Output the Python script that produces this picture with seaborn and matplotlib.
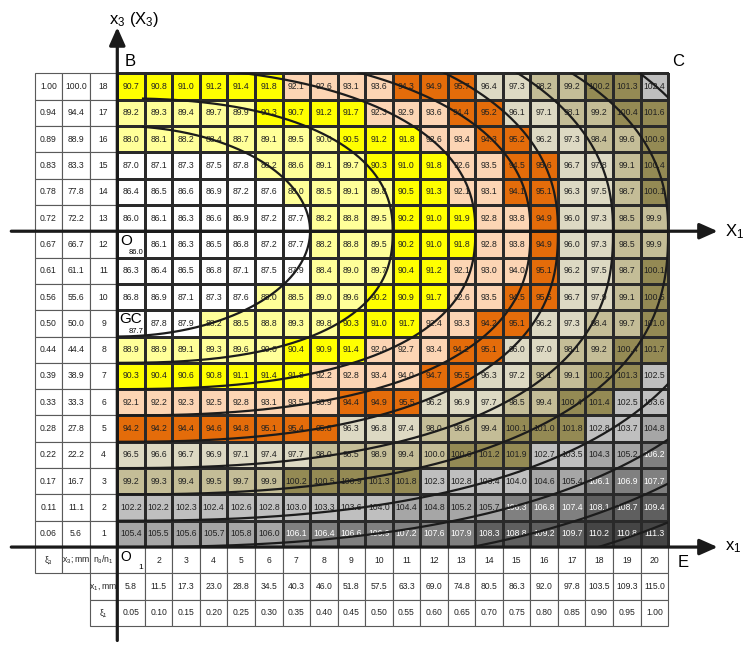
import numpy as np
import pandas as pd
import matplotlib
matplotlib.use('Agg')
import matplotlib.pyplot as plt
import seaborn as sns
from matplotlib.colors import ListedColormap, BoundaryNorm
from matplotlib.patches import Rectangle

# rows of the table, top (n3 = 18) to bottom (n3 = 1)
n3_levels = list(range(18, 0, -1))
n1_levels = list(range(1, 21))
xi3 = ['1.00', '0.94', '0.89', '0.83', '0.78', '0.72', '0.67', '0.61', '0.56',
       '0.50', '0.44', '0.39', '0.33', '0.28', '0.22', '0.17', '0.11', '0.06']
x3_mm = ['100.0', '94.4', '88.9', '83.3', '77.8', '72.2', '66.7', '61.1', '55.6',
         '50.0', '44.4', '38.9', '33.3', '27.8', '22.2', '16.7', '11.1', '5.6']
x1_mm = ['5.8', '11.5', '17.3', '23.0', '28.8', '34.5', '40.3', '46.0', '51.8', '57.5',
         '63.3', '69.0', '74.8', '80.5', '86.3', '92.0', '97.8', '103.5', '109.3', '115.0']
xi1 = ['0.05', '0.10', '0.15', '0.20', '0.25', '0.30', '0.35', '0.40', '0.45', '0.50',
       '0.55', '0.60', '0.65', '0.70', '0.75', '0.80', '0.85', '0.90', '0.95', '1.00']

cell_values = [
    [90.7, 90.8, 91.0, 91.2, 91.4, 91.8, 92.1, 92.6, 93.1, 93.6, 94.3, 94.9, 95.7, 96.4, 97.3, 98.2, 99.2, 100.2, 101.3, 102.4],
    [89.2, 89.3, 89.4, 89.7, 89.9, 90.3, 90.7, 91.2, 91.7, 92.3, 92.9, 93.6, 94.4, 95.2, 96.1, 97.1, 98.1, 99.2, 100.4, 101.6],
    [88.0, 88.1, 88.2, 88.4, 88.7, 89.1, 89.5, 90.0, 90.5, 91.2, 91.8, 92.6, 93.4, 94.3, 95.2, 96.2, 97.3, 98.4, 99.6, 100.9],
    [87.0, 87.1, 87.3, 87.5, 87.8, 88.2, 88.6, 89.1, 89.7, 90.3, 91.0, 91.8, 92.6, 93.5, 94.5, 95.6, 96.7, 97.8, 99.1, 100.4],
    [86.4, 86.5, 86.6, 86.9, 87.2, 87.6, 88.0, 88.5, 89.1, 89.8, 90.5, 91.3, 92.1, 93.1, 94.1, 95.1, 96.3, 97.5, 98.7, 100.1],
    [86.0, 86.1, 86.3, 86.6, 86.9, 87.2, 87.7, 88.2, 88.8, 89.5, 90.2, 91.0, 91.9, 92.8, 93.8, 94.9, 96.0, 97.3, 98.5, 99.9],
    [86.0, 86.1, 86.3, 86.5, 86.8, 87.2, 87.7, 88.2, 88.8, 89.5, 90.2, 91.0, 91.8, 92.8, 93.8, 94.9, 96.0, 97.3, 98.5, 99.9],
    [86.3, 86.4, 86.5, 86.8, 87.1, 87.5, 87.9, 88.4, 89.0, 89.7, 90.4, 91.2, 92.1, 93.0, 94.0, 95.1, 96.2, 97.5, 98.7, 100.1],
    [86.8, 86.9, 87.1, 87.3, 87.6, 88.0, 88.5, 89.0, 89.6, 90.2, 90.9, 91.7, 92.6, 93.5, 94.5, 95.5, 96.7, 97.9, 99.1, 100.5],
    [87.7, 87.8, 87.9, 88.2, 88.5, 88.8, 89.3, 89.8, 90.3, 91.0, 91.7, 92.4, 93.3, 94.2, 95.1, 96.2, 97.3, 98.4, 99.7, 101.0],
    [88.9, 88.9, 89.1, 89.3, 89.6, 90.0, 90.4, 90.9, 91.4, 92.0, 92.7, 93.4, 94.2, 95.1, 96.0, 97.0, 98.1, 99.2, 100.4, 101.7],
    [90.3, 90.4, 90.6, 90.8, 91.1, 91.4, 91.8, 92.2, 92.8, 93.4, 94.0, 94.7, 95.5, 96.3, 97.2, 98.1, 99.1, 100.2, 101.3, 102.5],
    [92.1, 92.2, 92.3, 92.5, 92.8, 93.1, 93.5, 93.9, 94.4, 94.9, 95.5, 96.2, 96.9, 97.7, 98.5, 99.4, 100.4, 101.4, 102.5, 103.6],
    [94.2, 94.2, 94.4, 94.6, 94.8, 95.1, 95.4, 95.8, 96.3, 96.8, 97.4, 98.0, 98.6, 99.4, 100.1, 101.0, 101.8, 102.8, 103.7, 104.8],
    [96.5, 96.6, 96.7, 96.9, 97.1, 97.4, 97.7, 98.0, 98.5, 98.9, 99.4, 100.0, 100.6, 101.2, 101.9, 102.7, 103.5, 104.3, 105.2, 106.2],
    [99.2, 99.3, 99.4, 99.5, 99.7, 99.9, 100.2, 100.5, 100.9, 101.3, 101.8, 102.3, 102.8, 103.4, 104.0, 104.6, 105.4, 106.1, 106.9, 107.7],
    [102.2, 102.2, 102.3, 102.4, 102.6, 102.8, 103.0, 103.3, 103.6, 104.0, 104.4, 104.8, 105.2, 105.7, 106.3, 106.8, 107.4, 108.1, 108.7, 109.4],
    [105.4, 105.5, 105.6, 105.7, 105.8, 106.0, 106.1, 106.4, 106.6, 106.9, 107.2, 107.6, 107.9, 108.3, 108.8, 109.2, 109.7, 110.2, 110.8, 111.3],
]

# colour bands
band_bounds = [0, 87.95, 90.05, 91.95, 94.05, 95.95, 97.95, 100.05, 102.0, 104.05, 106.05, 108.0, 110.0, 200]
band_colors = ['#FFFFFF', '#FFFF99', '#FFFF00', '#FCD5B4', '#E46C0A', '#DDD9C3', '#C4BD97',
               '#948A54', '#BFBFBF', '#A6A6A6', '#808080', '#5F5F5F', '#454545']

# ellipse-like lines around O (semi-axes in cells)
arc_a = [7, 10, 13, 15, 16, 18, 20, 22, 24, 26, 28]
arc_b_up = [4, 5.05, 6.26, 7.0, 8.16, 9.06, 9.39, 10.3]
arc_b_low = [4, 5, 6, 7, 8, 9, 10, 11, 12, 13, 14]
arc_x_start = [0.93, 0.93, 0, 0, 0, 0, 0, 0]

plt.rcParams['font.family'] = ['Liberation Sans', 'DejaVu Sans']
plt.rcParams['mathtext.fontset'] = 'custom'
plt.rcParams['mathtext.rm'] = 'Liberation Sans'
plt.rcParams['mathtext.default'] = 'rm'

df = pd.DataFrame(cell_values, index=n3_levels, columns=n1_levels)
annot = df.map(lambda v: f'{v:.1f}')
annot.loc[12, 1] = ''
annot.loc[9, 1] = ''

fig = plt.figure(figsize=(7.48, 6.5), dpi=100)
ax = fig.add_axes([0, 0, 1, 1])
sns.heatmap(df, ax=ax, cmap=ListedColormap(band_colors),
            norm=BoundaryNorm(band_bounds, len(band_colors)), cbar=False,
            annot=annot.values, fmt='', annot_kws=dict(fontsize=6.2, color='#222222'),
            linewidths=0.9, linecolor='#2a2a2a', xticklabels=False, yticklabels=False)
for t in ax.texts:
    x, y = t.get_position()
    if df.iloc[int(y), int(x)] >= 106.05:
        t.set_color('white')

txt = dict(ha='center', va='center', fontsize=6.2, color='#222222')


def table_cell(x, y, label):
    ax.add_patch(Rectangle((x, y), 1, 1, facecolor='white', edgecolor='#5a5a5a', lw=0.8, zorder=1))
    if label:
        ax.text(x + 0.5, y + 0.5, label, **txt)


# left table
for i, n3 in enumerate(n3_levels):
    table_cell(-3, i, xi3[i])
    table_cell(-2, i, x3_mm[i])
    table_cell(-1, i, str(n3))

# bottom table
table_cell(-3, 18, r'ξ$_3$')
table_cell(-2, 18, r'x$_3$; mm')
table_cell(-1, 18, r'n$_3$/n$_1$')
table_cell(-1, 19, r'x$_1$, mm')
table_cell(-1, 20, r'ξ$_1$')
for j, n1 in enumerate(n1_levels):
    table_cell(j, 18, str(n1) if j else '')
    table_cell(j, 19, x1_mm[j])
    table_cell(j, 20, xi1[j])

# curves
clip = Rectangle((0, 0), 20, 18, transform=ax.transData)
t = np.linspace(0, np.pi / 2, 600)
for k, a in enumerate(arc_a):
    p = 2.0 if k == 0 else 2.3
    xs = a * np.cos(t) ** (2 / p)
    ys = np.sin(t) ** (2 / p)
    if k < len(arc_b_up):
        xu = np.where(xs >= arc_x_start[k], xs, np.nan)
        ln, = ax.plot(xu, 6 - arc_b_up[k] * ys, color='#1c1c1c', lw=1.6, zorder=4)
        ln.set_clip_path(clip)
    pl = 2.0 if k == 0 else 2.45
    xl = a * np.cos(t) ** (2 / pl)
    yl = np.sin(t) ** (2 / pl)
    ln, = ax.plot(xl, 6 + arc_b_low[k] * yl, color='#1c1c1c', lw=1.6, zorder=4)
    ln.set_clip_path(clip)

# axes arrows
arrow = dict(arrowstyle='-|>,head_length=0.9,head_width=0.4', color='#1a1a1a', lw=2.3,
             mutation_scale=12, shrinkA=0, shrinkB=0)
ax.annotate('', xy=(21.8, 6), xytext=(-3.85, 6), arrowprops=arrow, zorder=6)
ax.annotate('', xy=(21.8, 18), xytext=(-3.85, 18), arrowprops=arrow, zorder=6)
ax.annotate('', xy=(0, -1.75), xytext=(0, 21.55), arrowprops=arrow, zorder=6)

# labels
ax.text(0.6, -2.05, r'x$_3$ (X$_3$)', ha='center', va='center', fontsize=12)
ax.text(0.45, -0.45, 'B', ha='center', va='center', fontsize=12)
ax.text(20.35, -0.45, 'C', ha='center', va='center', fontsize=12)
ax.text(22.05, 6.0, r'X$_1$', ha='left', va='center', fontsize=12)
ax.text(22.05, 18.0, r'x$_1$', ha='left', va='center', fontsize=12)
ax.text(20.55, 18.6, 'E', ha='center', va='center', fontsize=12)

ax.text(0.1, 6.1, 'O', ha='left', va='top', fontsize=11, zorder=5)
ax.text(0.95, 6.95, f'{df.loc[12, 1]:.1f}', ha='right', va='bottom', fontsize=5.5, zorder=5)
ax.text(0.06, 9.08, 'GC', ha='left', va='top', fontsize=11, zorder=5)
ax.text(0.95, 9.95, f'{df.loc[9, 1]:.1f}', ha='right', va='bottom', fontsize=5.5, zorder=5)
ax.text(0.1, 18.1, 'O', ha='left', va='top', fontsize=10, zorder=5)
ax.text(0.92, 18.92, str(n1_levels[0]), ha='right', va='bottom', fontsize=6, zorder=5)

ax.set_xlim(-4.259, 22.901)
ax.set_ylim(21.911, -2.785)
ax.axis('off')

fig.savefig('out.png', dpi=100, facecolor='white')
